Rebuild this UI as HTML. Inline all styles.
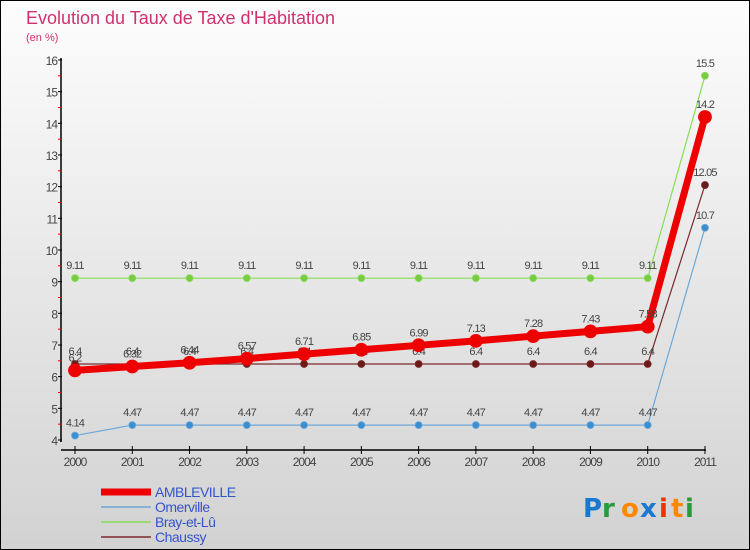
<!DOCTYPE html>
<html><head><meta charset="utf-8"><style>
body{margin:0;width:750px;height:550px;overflow:hidden;font-family:"Liberation Sans",sans-serif}
#c{position:absolute;left:0;top:0;width:748px;height:548px;border:1px solid #000;background:linear-gradient(#fdfdfd,#d2d2d2)}
</style></head><body>
<div id="c">
<svg id="s" width="750" height="550" style="position:absolute;left:-1px;top:-1px"></svg>
</div>
<script>
const years=[2000,2001,2002,2003,2004,2005,2006,2007,2008,2009,2010,2011];
const amb=[6.2,6.32,6.44,6.57,6.71,6.85,6.99,7.13,7.28,7.43,7.58,14.2];
const omer=[4.14,4.47,4.47,4.47,4.47,4.47,4.47,4.47,4.47,4.47,4.47,10.7];
const bray=[9.11,9.11,9.11,9.11,9.11,9.11,9.11,9.11,9.11,9.11,9.11,15.5];
const chau=[6.4,6.4,6.4,6.4,6.4,6.4,6.4,6.4,6.4,6.4,6.4,12.05];
const yTicks=[4,5,6,7,8,9,10,11,12,13,14,15,16];
const NS="http://www.w3.org/2000/svg",s=document.getElementById('s');
const X=i=>75+i*57.27, Y=v=>440-(v-4)*31.67;
function el(t,a,txt){const e=document.createElementNS(NS,t);for(const k in a)e.setAttribute(k,a[k]);if(txt!==undefined)e.textContent=txt;s.appendChild(e);return e;}
let e=el('text',{x:26,y:24,fill:'#d03070','font-size':18},"Evolution du Taux de Taxe d'Habitation");


e=el('text',{x:26,y:41,fill:'#d03070','font-size':11},"(en %)");


e=el('line',{x1:61,y1:58,x2:61,y2:442,stroke:'#000','stroke-width':1.5});


e=el('line',{x1:61,y1:450,x2:706,y2:450,stroke:'#000','stroke-width':1.5});


yTicks.forEach(v=>{
 el('line',{x1:58,y1:Y(v),x2:62,y2:Y(v),stroke:'#000'});
 if(v<16)el('line',{x1:58,y1:Y(v+0.5),x2:62,y2:Y(v+0.5),stroke:'#e00'});
 e=el('text',{x:57,y:Y(v)+5,'text-anchor':'end','font-size':12,fill:'#444','letter-spacing':-1},v);
 
 
});
years.forEach((y,i)=>{
 el('line',{x1:X(i),y1:446,x2:X(i),y2:454,stroke:'#000'});
 e=el('text',{x:X(i),y:466,'text-anchor':'middle','font-size':12,fill:'#444','letter-spacing':-1},y);
 
 
});
function series(d,col,dot,w,r,name){
 e=el('polyline',{points:d.map((v,i)=>X(i)+','+Y(v)).join(' '),fill:'none',stroke:col,'stroke-width':w});
 
 
 d.forEach((v,i)=>{
  e=el('circle',{cx:X(i),cy:Y(v),r:r,fill:dot,stroke:col,'stroke-width':0.8});
  
  
  e=el('text',{x:X(i),y:Y(v)-9,'text-anchor':'middle','font-size':11,fill:'#444','letter-spacing':-0.8},v);
  
  
 });
}
series(bray,'#88dd55','#77cc44',1.2,3.5,'bray-et-lu');
series(omer,'#6ea8d8','#3b8ed0',1.2,3.5,'omerville');
series(chau,'#7a2a2a','#6b1a1a',1.2,3.5,'chaussy');
series(amb,'#ee0000','#ee0000',7,6.5,'ambleville');
const leg=[['AMBLEVILLE','#ee0000',7],['Omerville','#6ea8d8',1.5],['Bray-et-Lû','#88dd55',1.5],['Chaussy','#7a2a2a',1.5]];
leg.forEach((l,i)=>{
 const y=492+i*15;
 e=el('line',{x1:101,y1:y,x2:151,y2:y,stroke:l[1],'stroke-width':l[2]});
 
 
 e=el('text',{x:155,y:y+5,'font-size':14,fill:'#3355cc','letter-spacing':-0.5},l[0]);
 
 
});
const logo=[['P','#1a78d0'],['r','#2a9a3a'],['o','#ff8800'],['x','#1a78d0'],['i','#ee3300'],['t','#ff8800'],['i','#2a9a3a']];
let lx=583;
logo.forEach(c=>{
 e=el('text',{x:lx,y:517,'font-size':26,'font-weight':'bold',fill:c[1],'font-family':'DejaVu Sans, sans-serif'},c[0]);
 
 
 lx+= c[0]==='i'?12:(c[0]==='t'?14:19);
});
</script>
</body></html>
